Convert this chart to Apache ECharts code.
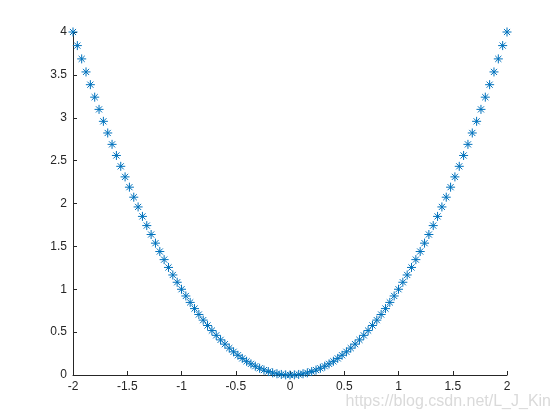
<!DOCTYPE html>
<html><head><meta charset="utf-8">
<script src="https://cdn.jsdelivr.net/npm/echarts@6/dist/echarts.min.js"></script>
<style>html,body{margin:0;padding:0;background:#fff}#c{width:560px;height:420px}</style>
</head><body><div id="c"></div>
<script>
var xValues = [-2,-1.96,-1.92,-1.88,-1.84,-1.8,-1.76,-1.72,-1.68,-1.64,-1.6,-1.56,-1.52,-1.48,-1.44,-1.4,-1.36,-1.32,-1.28,-1.24,-1.2,-1.16,-1.12,-1.08,-1.04,-1,-0.96,-0.92,-0.88,-0.84,-0.8,-0.76,-0.72,-0.68,-0.64,-0.6,-0.56,-0.52,-0.48,-0.44,-0.4,-0.36,-0.32,-0.28,-0.24,-0.2,-0.16,-0.12,-0.08,-0.04,0,0.04,0.08,0.12,0.16,0.2,0.24,0.28,0.32,0.36,0.4,0.44,0.48,0.52,0.56,0.6,0.64,0.68,0.72,0.76,0.8,0.84,0.88,0.92,0.96,1,1.04,1.08,1.12,1.16,1.2,1.24,1.28,1.32,1.36,1.4,1.44,1.48,1.52,1.56,1.6,1.64,1.68,1.72,1.76,1.8,1.84,1.88,1.92,1.96,2];
var yValues = [4,3.8416,3.6864,3.5344,3.3856,3.24,3.0976,2.9584,2.8224,2.6896,2.56,2.4336,2.3104,2.1904,2.0736,1.96,1.8496,1.7424,1.6384,1.5376,1.44,1.3456,1.2544,1.1664,1.0816,1,0.9216,0.8464,0.7744,0.7056,0.64,0.5776,0.5184,0.4624,0.4096,0.36,0.3136,0.2704,0.2304,0.1936,0.16,0.1296,0.1024,0.0784,0.0576,0.04,0.0256,0.0144,0.0064,0.0016,0,0.0016,0.0064,0.0144,0.0256,0.04,0.0576,0.0784,0.1024,0.1296,0.16,0.1936,0.2304,0.2704,0.3136,0.36,0.4096,0.4624,0.5184,0.5776,0.64,0.7056,0.7744,0.8464,0.9216,1,1.0816,1.1664,1.2544,1.3456,1.44,1.5376,1.6384,1.7424,1.8496,1.96,2.0736,2.1904,2.3104,2.4336,2.56,2.6896,2.8224,2.9584,3.0976,3.24,3.3856,3.5344,3.6864,3.8416,4];
var xTicks = [-2,-1.5,-1,-0.5,0,0.5,1,1.5,2];
var yTicks = [0,0.5,1,1.5,2,2.5,3,3.5,4];
var watermark = 'https://blog.csdn.net/L_J_Kin';

var data = xValues.map(function(x,i){return [x,yValues[i]];});
var axisColor = '#262626';
var star = 'path://M5,0L5,10M0,5L10,5M1.6,1.6L8.4,8.4M1.6,8.4L8.4,1.6';
var chart = echarts.init(document.getElementById('c'), null, {renderer:'canvas'});
chart.setOption({
  animation:false,
  backgroundColor:'#fff',
  grid:{left:73,right:53,top:32,bottom:45,containLabel:false},
  xAxis:{type:'value',min:xTicks[0],max:xTicks[xTicks.length-1],interval:0.5,
    axisLine:{show:true,onZero:false,lineStyle:{color:axisColor,width:1}},
    axisTick:{show:true,inside:true,length:4,lineStyle:{color:axisColor}},
    splitLine:{show:false},
    axisLabel:{color:axisColor,fontSize:12,fontFamily:'Arial, Liberation Sans',margin:6,
      formatter:function(v){return String(v);}}
  },
  yAxis:{type:'value',min:yTicks[0],max:yTicks[yTicks.length-1],interval:0.5,
    axisLine:{show:true,onZero:false,lineStyle:{color:axisColor,width:1}},
    axisTick:{show:true,inside:true,length:4,lineStyle:{color:axisColor}},
    splitLine:{show:false},
    axisLabel:{color:axisColor,fontSize:12,fontFamily:'Arial, Liberation Sans',margin:6,
      formatter:function(v){return String(v);}}
  },
  series:[{type:'scatter',data:data,symbol:star,symbolSize:9,
    itemStyle:{color:'#0072BD',borderColor:'#0072BD',borderWidth:1,opacity:1}}],
  graphic:[{type:'text',right:9,top:394,style:{text:watermark,fill:'#dadada',font:'16px Arial, Liberation Sans'}}]
});
</script></body></html>
